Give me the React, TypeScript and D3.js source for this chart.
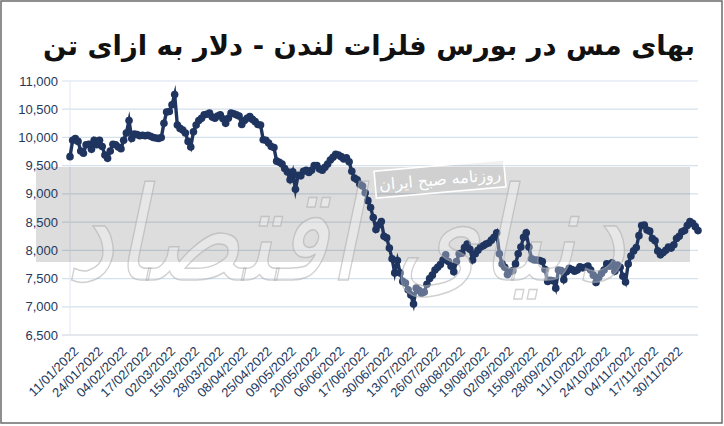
import React from "react";
import * as d3 from "d3";

const TITLE = "بهای مس در بورس فلزات لندن - دلار به ازای تن";
const WATERMARK = "دنیای اقتصاد";
const BADGE = "روزنامه صبح ایران";

const yTicks = [6500, 7000, 7500, 8000, 8500, 9000, 9500, 10000, 10500, 11000];

const xTickLabels = [
  "11/01/2022", "24/01/2022", "04/02/2022", "17/02/2022", "02/03/2022", "15/03/2022",
  "28/03/2022", "08/04/2022", "25/04/2022", "09/05/2022", "20/05/2022", "06/06/2022",
  "17/06/2022", "30/06/2022", "13/07/2022", "26/07/2022", "08/08/2022", "19/08/2022",
  "02/09/2022", "15/09/2022", "28/09/2022", "11/10/2022", "24/10/2022", "04/11/2022",
  "17/11/2022", "30/11/2022",
];
const firstLabelIndex = 5;
const labelStep = 9;

// copper price, USD per tonne, one value per trading day
const prices = [
  9660, 9950, 9980, 9930, 9760, 9720, 9870, 9880, 9790, 9950,
  9870, 9950, 9840, 9690, 9630, 9760, 9880, 9870, 9830, 9800,
  9950, 10080, 10300, 9980, 10060, 10050, 10030, 10040, 10030, 10040,
  10020, 10000, 9990, 9980, 10000, 10250, 10450, 10460, 10580, 10760,
  10220, 10160, 10130, 10080, 9930, 9830, 10100, 10220, 10300, 10340,
  10400, 10410, 10430, 10360, 10340, 10380, 10400, 10330, 10250, 10340,
  10430, 10420, 10400, 10380, 10230, 10300, 10340, 10370, 10320, 10280,
  10230, 10220, 9960, 9950, 9900, 9840, 9820, 9580, 9560, 9530,
  9450, 9390, 9250, 9390, 9080, 9330, 9320, 9400, 9420, 9380,
  9420, 9500, 9500, 9440, 9420, 9470, 9530, 9600, 9650, 9700,
  9690, 9660, 9620, 9640, 9570, 9400, 9280, 9250, 9170, 9140,
  9020, 8880, 8760, 8580, 8370, 8450, 8510, 8250, 8220, 8040,
  7850, 7600, 7820, 7600, 7450, 7420, 7300, 7210, 7050, 7330,
  7290, 7240, 7260, 7400, 7500, 7560, 7650, 7700, 7750, 7830,
  7920, 7800, 7720, 7620, 7800, 7940, 7950, 8050, 8110, 8020,
  7830, 7940, 8000, 8060, 8080, 8110, 8130, 8180, 8230, 8310,
  7940, 7760, 7700, 7570, 7620, 7640, 7760, 7940, 8060, 8230,
  8310, 8060, 7850, 7830, 7830, 7820, 7800, 7660, 7450, 7470,
  7460, 7330, 7650, 7640, 7480, 7620, 7680, 7660, 7630, 7650,
  7710, 7690, 7700, 7720, 7650, 7560, 7430, 7520, 7590, 7650,
  7760, 7720, 7780, 7630, 7740, 7700, 7540, 7440, 7760, 7900,
  7990, 8050, 8260, 8440, 8450, 8360, 8340, 8210, 8170, 7990,
  7920, 7960, 8000, 8060, 8040, 8100, 8210, 8250, 8330, 8350,
  8440, 8510, 8480, 8420, 8350,
];

const W = 724;
const H = 426;
const PLOT_LEFT = 70;
const PLOT_RIGHT = 698;
const GRID_LEFT = 62;
const PLOT_TOP = 81;
const PLOT_BOTTOM = 335;
const NAVY = "#1f3560";
const LABEL = "#23395d";

export default function App() {
  React.useEffect(() => {
    document.body.style.margin = "0";
  }, []);

  const idx = prices.map((_, i) => i);
  const x = d3.scalePoint<number>().domain(idx).range([PLOT_LEFT, PLOT_RIGHT]);
  const y = d3.scaleLinear().domain([6500, 11000]).range([PLOT_BOTTOM, PLOT_TOP]);
  const line = d3
    .line<number>()
    .x((_, i) => x(i) as number)
    .y((d) => y(d));
  const fmt = d3.format(",");

  return (
    <svg width={W} height={H} style={{ position: "absolute", left: 0, top: 0, background: "#fff" }}>
      <rect x={0} y={0} width={W} height={H} fill="#fff" />
      <rect x={1} y={1} width={721} height={422} fill="none" stroke="#6b6b6b" strokeWidth={1.5} />

      <text
        x={369}
        y={55}
        textAnchor="middle"
        direction="rtl"
        fontFamily="DejaVu Sans"
        fontWeight="bold"
        fontSize={27}
        fill="#111"
        textLength={652}
        lengthAdjust="spacingAndGlyphs"
      >
        {TITLE}
      </text>

      {/* gridlines */}
      {yTicks.map((t) => (
        <line
          key={t}
          x1={GRID_LEFT}
          x2={PLOT_RIGHT}
          y1={y(t)}
          y2={y(t)}
          stroke={t === 6500 ? "#c9d0d8" : "#d5e1ec"}
          strokeWidth={1.2}
        />
      ))}
      <line x1={PLOT_LEFT} x2={PLOT_LEFT} y1={PLOT_TOP} y2={PLOT_BOTTOM} stroke="#dfe8f0" strokeWidth={1} />

      {/* watermark gray band */}
      <rect x={36} y={167} width={654} height={95} fill="#000" fillOpacity={0.135} />

      {/* y labels */}
      {yTicks.map((t) => (
        <text
          key={t}
          x={58}
          y={y(t) + 4.5}
          textAnchor="end"
          fontFamily="Liberation Sans"
          fontSize={13}
          fill={LABEL}
        >
          {fmt(t)}
        </text>
      ))}

      {/* x labels */}
      {xTickLabels.map((lab, k) => {
        const px = x(firstLabelIndex + k * labelStep) as number;
        const tx = px - 4;
        const ty = PLOT_BOTTOM + 17;
        return (
          <text
            key={lab}
            x={tx}
            y={ty}
            transform={`rotate(-45, ${tx}, ${ty})`}
            textAnchor="end"
            fontFamily="Liberation Sans"
            fontSize={13}
            fill={LABEL}
          >
            {lab}
          </text>
        );
      })}

      {/* series */}
      <path
        d={line(prices) as string}
        fill="none"
        stroke={NAVY}
        strokeWidth={3.4}
        strokeLinejoin="miter"
        strokeMiterlimit={10}
      />
      {prices.map((v, i) => (
        <circle key={i} cx={x(i) as number} cy={y(v)} r={3.8} fill={NAVY} />
      ))}

      {/* badge */}
      <g transform="translate(440,179) rotate(-5)">
        <rect x={-65} y={-13.5} width={130} height={27} fill="#000" fillOpacity={0.06} stroke="#fff" strokeWidth={1.6} />
        <text
          x={0}
          y={6}
          textAnchor="middle"
          direction="rtl"
          fontFamily="DejaVu Sans"
          fontSize={16}
          fill="#fff"
        >
          {BADGE}
        </text>
      </g>

      {/* calligraphic watermark approximation */}
      <text
        x={345}
        y={280}
        textAnchor="middle"
        direction="rtl"
        fontFamily="DejaVu Sans"
        fontSize={130}
        fontStyle="italic"
        fill="#fff"
        fillOpacity={0.3}
        stroke="#a9a9a9"
        strokeOpacity={0.55}
        strokeWidth={1.5}
        textLength={560}
        lengthAdjust="spacingAndGlyphs"
      >
        {WATERMARK}
      </text>
    </svg>
  );
}
